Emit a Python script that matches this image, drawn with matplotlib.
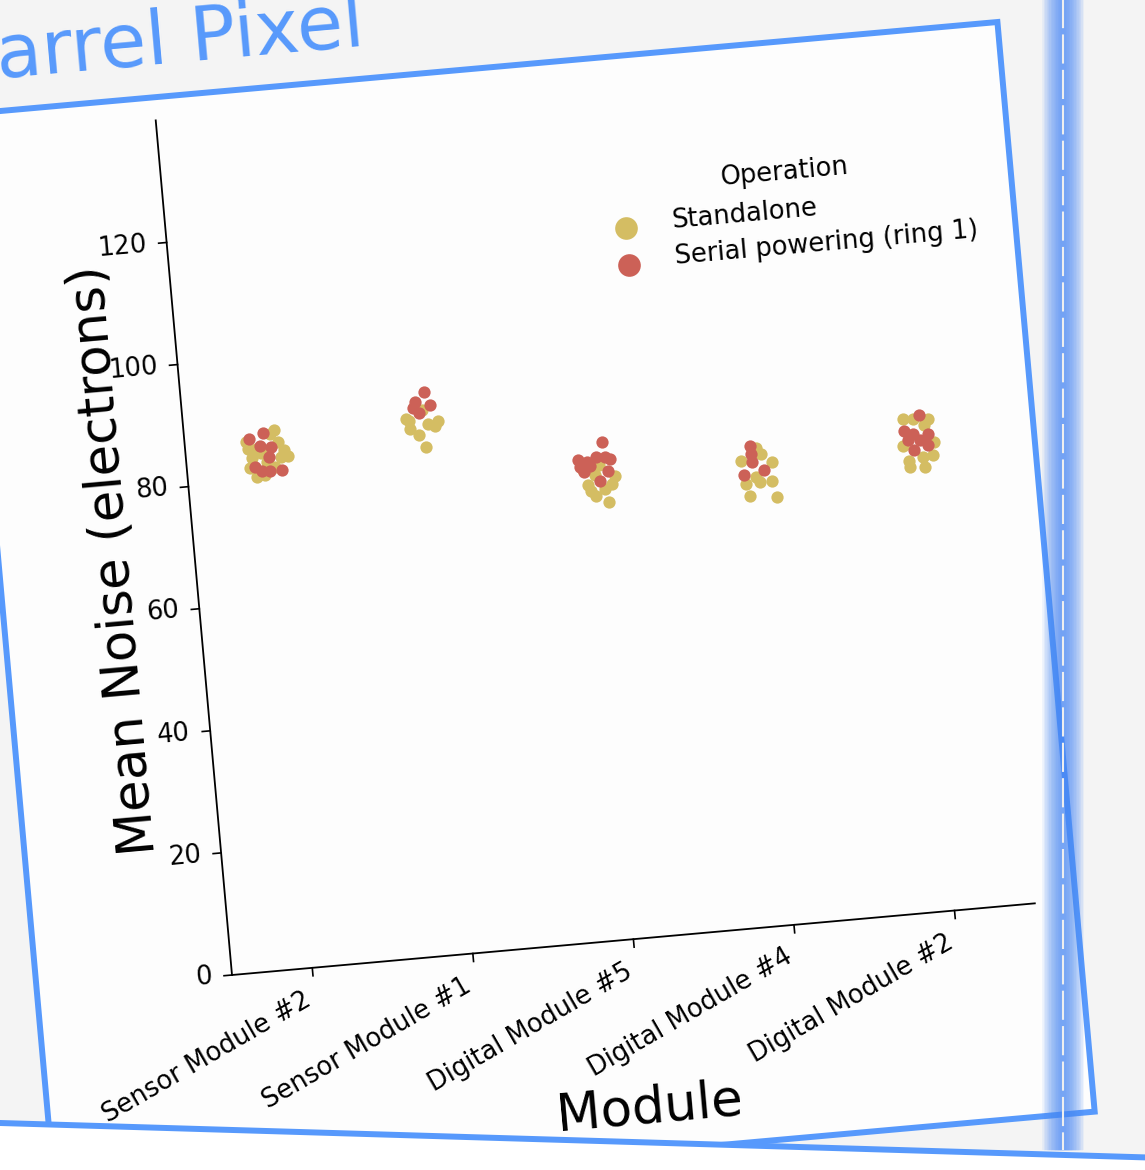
import matplotlib
matplotlib.use("Agg")
import matplotlib.pyplot as plt
from matplotlib.patches import Polygon
from matplotlib.transforms import Affine2D

# data
modules = ["Sensor Module #2", "Sensor Module #1", "Digital Module #5",
           "Digital Module #4", "Digital Module #2"]
hue_labels = ["Standalone", "Serial powering (ring 1)"]
yticks = [0, 20, 40, 60, 80, 100, 120]

standalone_noise = [
    [87.3, 86.4, 85.9, 84.6, 83.4, 83.8, 82.2, 80.5, 87.9, 83.6, 84.5, 82.8, 85.2, 82.0, 85.3, 80.8],
    [87.9, 86.2, 85.0, 83.0, 86.7, 87.1, 86.3, 87.5, 89.0],
    [74.4, 72.6, 71.4, 75.6, 74.3, 73.6, 73.5, 77.0, 77.6, 76.0],
    [76.2, 77.0, 75.5, 72.5, 72.4, 70.4, 69.8, 73.3, 72.4, 78.1],
    [80.7, 80.3, 76.3, 76.4, 74.3, 73.8, 72.7, 72.5, 74.1, 80.5, 79.3],
]
standalone_jitter = [
    [0.03, -0.12, 0.08, 0.11, 0.09, -0.09, -0.11, -0.07, 0.06, 0.13, -0.035, 0.0, -0.06, 0.045, -0.11, -0.02],
    [-0.12, -0.10, -0.05, -0.01, 0.015, 0.08, 0.055, -0.10, -0.015],
    [-0.03, 0.015, 0.09, 0.14, 0.12, 0.07, -0.015, -0.05, 0.05, 0.02],
    [-0.07, 0.055, 0.12, 0.11, 0.035, -0.035, 0.13, 0.015, -0.05, 0.03],
    [-0.05, 0.11, -0.06, 0.13, 0.12, -0.035, -0.03, 0.065, 0.055, 0.015, 0.08],
]
serial_noise = [
    [87.6, 86.8, 85.5, 85.3, 83.7, 82.2, 81.5, 81.4, 81.3],
    [92.0, 90.4, 89.7, 88.6, 89.6],
    [81.2, 78.7, 77.5, 78.9, 78.4, 76.5, 75.0, 76.6, 77.6, 78.2, 78.7],
    [78.5, 77.2, 75.8, 74.3, 73.8],
    [81.0, 78.7, 78.1, 77.9, 76.9, 76.0, 75.4, 77.1],
]
serial_jitter = [
    [-0.01, -0.10, -0.035, 0.035, 0.015, -0.08, -0.035, 0.015, 0.085],
    [0.01, -0.055, 0.035, -0.035, -0.07],
    [0.08, -0.08, -0.07, 0.035, 0.12, 0.10, 0.045, -0.045, -0.005, -0.025, 0.09],
    [-0.005, -0.005, -0.005, 0.065, -0.06],
    [0.055, -0.045, 0.005, 0.10, 0.045, 0.09, 0.005, -0.03],
]

c_sa = "#d4bd63"
c_sp = "#cc6157"
blue = "#5799fc"

W, H = 1145, 1170
fig = plt.figure(figsize=(W / 100, H / 100), dpi=100, facecolor="#f4f4f4")

# plot box in pixels (before the tilt) and the tilt of the screenshot
ox, oy = 232, 195
aw, ah = 806, 858
ang = 5.1

ax = fig.add_axes([ox / W, oy / H, aw / W, ah / H])
ax.set_xlim(-0.5, 4.5)
ax.set_ylim(0, 140)
ax.axis("off")
ax.patch.set_visible(False)

rot = Affine2D().rotate_deg_around(ox, oy, ang)
tdata = ax.transData + rot
taxes = ax.transAxes + rot
tyax = ax.get_yaxis_transform() + rot
txax = ax.get_xaxis_transform() + rot
timg = Affine2D().scale(1 / W, -1 / H).translate(0, 1) + fig.transFigure

# white card with blue border
card = Polygon([(-0.243, -0.248), (1.051, -0.248), (1.051, 1.027), (-0.243, 1.027)],
               closed=True, facecolor="#fdfdfd", edgecolor=blue, lw=4.3,
               transform=taxes, clip_on=False, zorder=0.5)
ax.add_patch(card)

# glowing vertical line on the right (stacked soft strokes)
for lw in range(30, 3, -2):
    ax.plot([1063, 1063], [-10, 1150], color="#4a8af4", lw=lw, alpha=0.09,
            solid_capstyle="butt", transform=timg, clip_on=False, zorder=6)
ax.plot([1063, 1063], [-10, 1150], color="#eeeeee", lw=1.5, ls=(0, (14, 3)),
        transform=timg, clip_on=False, zorder=6.1)

# lower card overlapping the bottom
low = Polygon([(-20, 1122.4), (1165, 1158), (1165, 1300), (-20, 1300)],
              closed=True, facecolor="white", edgecolor=blue, lw=4.3,
              transform=timg, clip_on=False, zorder=20)
ax.add_patch(low)

# title (cut at the left edge, as in the screenshot)
ax.text(366, 46, "Barrel Pixel", transform=timg, ha="right", va="baseline",
        rotation=ang, rotation_mode="anchor", fontsize=54, color=blue, zorder=20)

# points
for k in range(len(modules)):
    xs = [k + j for j in standalone_jitter[k]]
    ax.scatter(xs, standalone_noise[k], s=78, color=c_sa, linewidths=0,
               transform=tdata, clip_on=False, zorder=3)
for k in range(len(modules)):
    xs = [k + j for j in serial_jitter[k]]
    ax.scatter(xs, serial_noise[k], s=78, color=c_sp, linewidths=0,
               transform=tdata, clip_on=False, zorder=4)

# spines
ax.plot([0, 0], [0, 1], color="k", lw=1.3, transform=taxes, clip_on=False, zorder=5)
ax.plot([0, 1], [0, 0], color="k", lw=1.3, transform=taxes, clip_on=False, zorder=5)

# ticks and labels
for v in yticks:
    ax.plot([0, -8 / aw], [v, v], color="k", lw=1.2, transform=tyax, clip_on=False, zorder=5)
    ax.text(-20 / aw, v, str(v), transform=tyax, ha="right", va="center",
            rotation=ang, rotation_mode="anchor", fontsize=18.5)
for k, name in enumerate(modules):
    ax.plot([k, k], [0, -8 / ah], color="k", lw=1.2, transform=txax, clip_on=False, zorder=5)
    ax.text(k - 0.037, -30 / ah, name, transform=txax, ha="right", va="center",
            rotation=25 + ang, rotation_mode="anchor", fontsize=18.5)

ax.text(-80 / aw, 0.494, "Mean Noise (electrons)", transform=taxes, ha="center",
        va="center", rotation=90 + ang, rotation_mode="anchor", fontsize=37)
ax.text(0.502, -170 / ah, "Module", transform=taxes, ha="center", va="center",
        rotation=ang, rotation_mode="anchor", fontsize=37)

# legend
ax.text(0.771, 0.875, "Operation", transform=taxes, ha="center", va="center",
        rotation=ang, rotation_mode="anchor", fontsize=18.5)
leg_y = [0.826, 0.783]
for lab, col, yy in zip(hue_labels, [c_sa, c_sp], leg_y):
    ax.scatter([0.569], [yy], s=266, color=col, linewidths=0, transform=taxes,
               clip_on=False, zorder=4)
    ax.text(0.627, yy + 0.004, lab, transform=taxes, ha="left", va="center",
            rotation=ang, rotation_mode="anchor", fontsize=18.5)

fig.savefig("out.png", dpi=100, facecolor=fig.get_facecolor())
